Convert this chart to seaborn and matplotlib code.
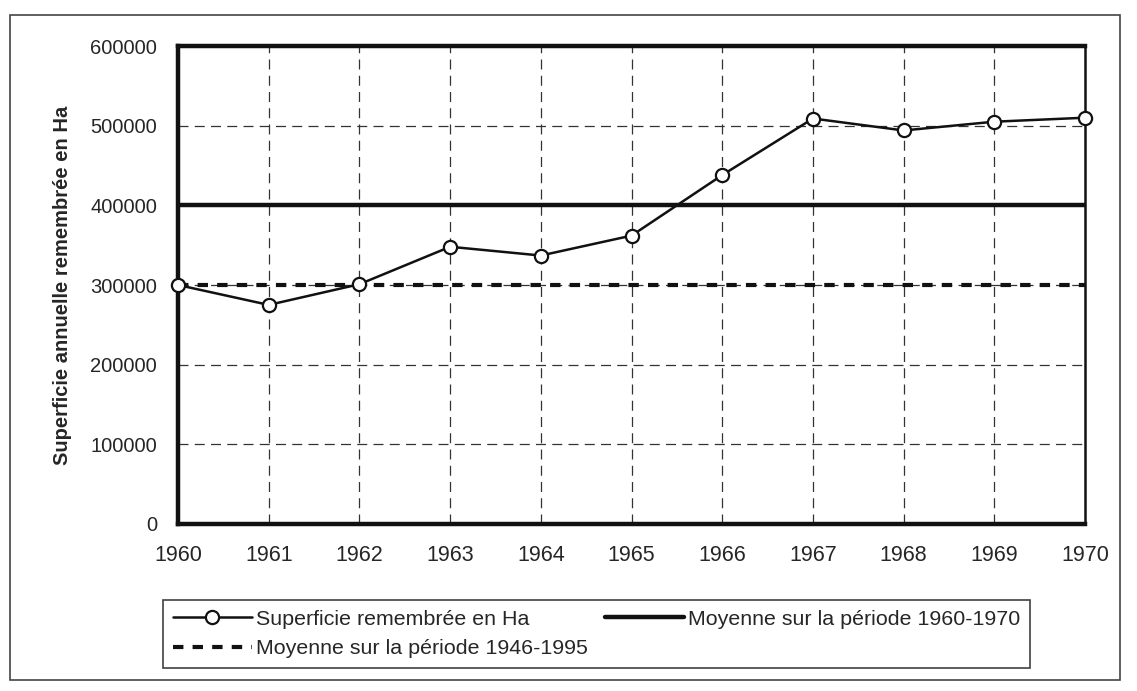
import numpy as np
import pandas as pd
import seaborn as sns
import matplotlib.pyplot as plt
from matplotlib.patches import Rectangle

# données
years = [1960, 1961, 1962, 1963, 1964, 1965, 1966, 1967, 1968, 1969, 1970]
surface_ha = [300000, 275000, 301000, 348000, 337000, 362000, 438000, 509000, 494000, 505000, 510000]
mean_1960_1970 = 400000
mean_1946_1995 = 300000
y_ticks = [0, 100000, 200000, 300000, 400000, 500000, 600000]

label_surface = "Superficie remembrée en Ha"
label_m1 = "Moyenne sur la période 1960-1970"
label_m2 = "Moyenne sur la période 1946-1995"

df = pd.DataFrame({"year": years, "surface": surface_ha})
df["m1"] = mean_1960_1970
df["m2"] = mean_1946_1995

sns.set_theme(style="white")
plt.rcParams['font.family'] = ['Liberation Sans', 'DejaVu Sans']

fig = plt.figure(figsize=(11.37, 6.91), dpi=100)
ax = fig.add_axes([0.1566, 0.2417, 0.7977, 0.6917])

# grille en tirets
for y in y_ticks[1:-1]:
    ax.axhline(y, color="#333333", lw=0.9, ls=(0, (8, 5)), zorder=0)
for x in years[1:-1]:
    ax.axvline(x, color="#333333", lw=0.9, ls=(0, (8, 5)), zorder=0)

sns.lineplot(data=df, x="year", y="m2", ax=ax, color="#111111", lw=3,
             linestyle=(0, (2.5, 2.2)), label=label_m2, zorder=2)
sns.lineplot(data=df, x="year", y="m1", ax=ax, color="#111111", lw=3.2,
             label=label_m1, zorder=3)
sns.lineplot(data=df, x="year", y="surface", ax=ax, color="#111111", lw=1.8,
             marker="o", markersize=9.5, markerfacecolor="white",
             markeredgecolor="#111111", markeredgewidth=1.6,
             label=label_surface, zorder=4, clip_on=False)

ax.set_xlim(1960, 1970)
ax.set_ylim(0, 600000)
ax.set_xticks(years)
ax.set_yticks(y_ticks)
ax.set_xticklabels([str(y) for y in years], fontsize=15.5)
ax.set_yticklabels([str(v) for v in y_ticks], fontsize=14.5)
ax.tick_params(axis="x", direction="inout", length=12, width=3, color="#111111", pad=9)
ax.tick_params(axis="y", direction="out", length=5, width=2.5, color="#111111", pad=10)
ax.set_xlabel("")
ax.set_ylabel("Superficie annuelle remembrée en Ha", fontsize=14.5,
              fontweight="bold", labelpad=13)

for side in ["top", "left", "bottom"]:
    ax.spines[side].set_linewidth(3.2)
    ax.spines[side].set_color("#111111")
ax.spines["right"].set_linewidth(1.8)
ax.spines["right"].set_color("#111111")

handles, labels = ax.get_legend_handles_labels()
order = [labels.index(label_surface), labels.index(label_m2), labels.index(label_m1)]
leg = ax.legend([handles[i] for i in order], [labels[i] for i in order],
                ncol=2, loc="upper left", bbox_to_anchor=(163 / 1137, 1 - 600 / 691),
                bbox_transform=fig.transFigure, fontsize=15.4,
                frameon=True, fancybox=False, edgecolor="#111111", borderpad=0.45,
                borderaxespad=0, handlelength=3.7, handletextpad=0.2,
                columnspacing=0.8, labelspacing=0.5)
leg.get_frame().set_linewidth(1.2)

# cadre extérieur
fig.patches.append(Rectangle((10 / 1137, 11 / 691), 1110 / 1137, 665 / 691,
                             transform=fig.transFigure, fill=False,
                             edgecolor="#444444", lw=1.2))

fig.savefig("out.png", dpi=100)
